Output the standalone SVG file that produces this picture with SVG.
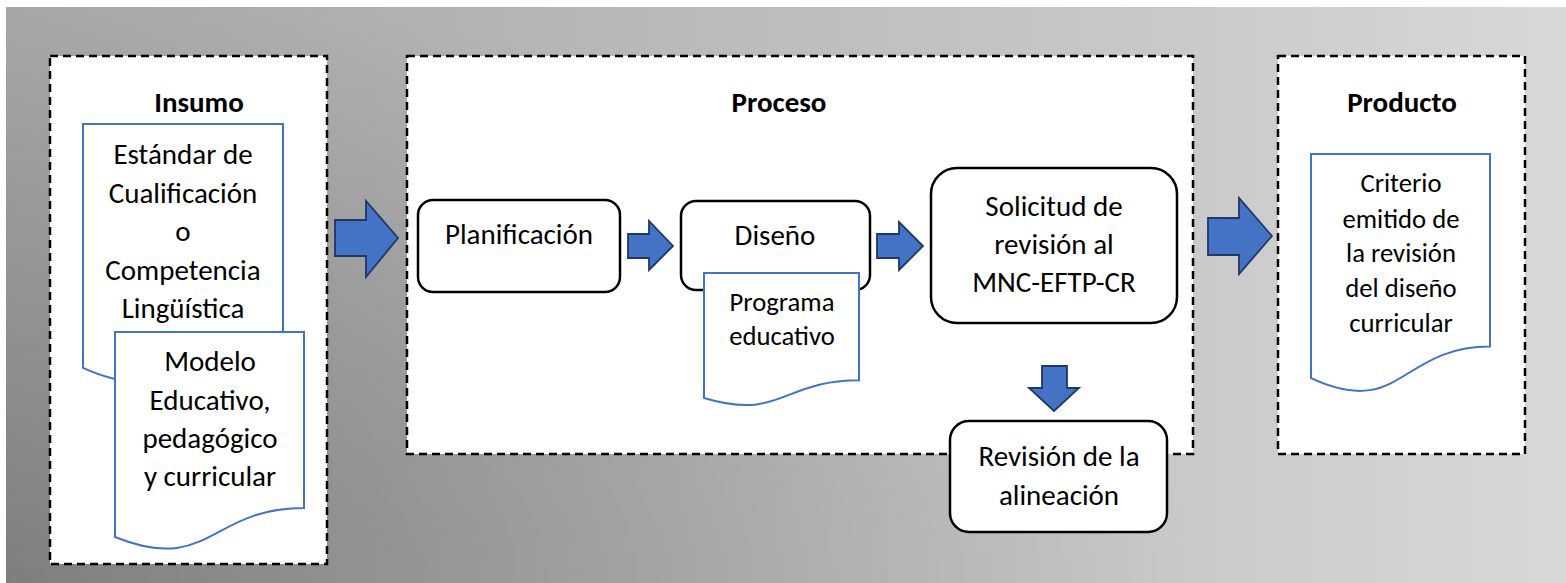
<svg xmlns="http://www.w3.org/2000/svg" width="1566" height="583" viewBox="0 0 1566 583">
  <defs>
    <linearGradient id="bgH" gradientUnits="userSpaceOnUse" x1="0" y1="0" x2="1566" y2="0">
      <stop offset="0" stop-color="#a8a8a8"/>
      <stop offset="0.26" stop-color="#b1b1b1"/>
      <stop offset="0.75" stop-color="#c9c9c9"/>
      <stop offset="1" stop-color="#d8d8d8"/>
    </linearGradient>
    <radialGradient id="bgShade" gradientUnits="userSpaceOnUse" cx="0" cy="583" r="600" gradientTransform="translate(0 583) scale(2 1) translate(0 -583)">
      <stop offset="0" stop-color="#000" stop-opacity="0.25"/>
      <stop offset="1" stop-color="#000" stop-opacity="0"/>
    </radialGradient>
    <style>
      .stage { fill: #ffffff; stroke: #000000; stroke-width: 2.5; stroke-dasharray: 8 5; }
      .box { fill: #ffffff; stroke: #000000; stroke-width: 2.5; }
      .doc { fill: #ffffff; stroke: #4472c4; stroke-width: 2; }
      .arrow { fill: #4472c4; stroke: #1f3864; stroke-width: 1.8; stroke-linejoin: miter; }
      text { font-family: Carlito, Lato, "Liberation Sans", sans-serif; fill: #000000; text-anchor: middle; }
      .t { font-size: 29px; }
      .s { font-size: 26.7px; }
      .h { font-size: 29px; font-weight: bold; }
    </style>
  </defs>

  <rect x="6" y="7" width="1560" height="576" fill="url(#bgH)"/>
  <rect x="6" y="7" width="1560" height="576" fill="url(#bgShade)"/>

  <g id="insumo">
    <rect class="stage" x="50" y="56" width="277" height="508"/>
    <text class="h" x="199" y="112">Insumo</text>
  </g>

  <g id="proceso">
    <rect class="stage" x="407" y="56" width="786" height="398"/>
    <text class="h" x="779" y="112">Proceso</text>
  </g>

  <g id="producto">
    <rect class="stage" x="1278" y="56" width="247" height="398"/>
    <text class="h" x="1402" y="112">Producto</text>
  </g>

  <g id="doc-estandar">
    <path class="doc" d="M83,124 H283 V333.3 C183,333.3 183,413 83,367.8 Z"/>
    <text class="t" x="183" y="164">Estándar de</text>
    <text class="t" x="183" y="202.5">Cualificación</text>
    <text class="t" x="183" y="241">o</text>
    <text class="t" x="183" y="279.5">Competencia</text>
    <text class="t" x="183" y="318">Lingüística</text>
  </g>

  <g id="doc-modelo">
    <path class="doc" d="M115,332 H304 V508 C209.5,508 209.5,575 115,537 Z"/>
    <text class="t" x="210" y="371">Modelo</text>
    <text class="t" x="210" y="410">Educativo,</text>
    <text class="t" x="210" y="448">pedagógico</text>
    <text class="t" x="210" y="486">y curricular</text>
  </g>

  <g id="planificacion">
    <rect class="box" x="418" y="200" width="202" height="92" rx="15" ry="15"/>
    <text class="t" x="519" y="244">Planificación</text>
  </g>

  <g id="diseno">
    <rect class="box" x="681" y="201" width="189" height="89" rx="15" ry="15"/>
    <text class="t" x="775" y="245">Diseño</text>
  </g>

  <g id="doc-programa">
    <path class="doc" d="M704,273 H859 V380.3 C781.5,380.3 781.5,421.2 704,398 Z"/>
    <text class="s" x="782" y="311">Programa</text>
    <text class="s" x="782" y="345">educativo</text>
  </g>

  <g id="solicitud">
    <rect class="box" x="931" y="168" width="246" height="155" rx="26" ry="26"/>
    <text class="t" x="1054" y="216">Solicitud de</text>
    <text class="t" x="1054" y="254">revisión al</text>
    <text class="t" x="1054" y="292">MNC-EFTP-CR</text>
  </g>

  <g id="revision">
    <rect class="box" x="950" y="421" width="217" height="111" rx="19" ry="19"/>
    <text class="t" x="1059" y="466">Revisión de la</text>
    <text class="t" x="1059" y="505">alineación</text>
  </g>

  <g id="doc-criterio">
    <path class="doc" d="M1311,154 H1490 V346.5 C1400.5,346.5 1400.5,419.8 1311,378.2 Z"/>
    <text class="s" x="1401" y="192">Criterio</text>
    <text class="s" x="1401" y="228">emitido de</text>
    <text class="s" x="1401" y="262">la revisión</text>
    <text class="s" x="1401" y="297">del diseño</text>
    <text class="s" x="1401" y="332">curricular</text>
  </g>

  <g id="connectors">
    <path class="arrow" d="M335,220 H366 V201 L398,238 L366,277 V256 H335 Z"/>
    <path class="arrow" d="M628,234 H649 V221 L673,246 L649,270 V258 H628 Z"/>
    <path class="arrow" d="M877,234 H899 V222 L923,246 L899,270 V258 H877 Z"/>
    <path class="arrow" d="M1042,366 H1067 V388 H1079 L1054,411 L1029,388 H1042 Z"/>
    <path class="arrow" d="M1208,218 H1239 V198 L1272,236 L1239,274 V255 H1208 Z"/>
  </g>
</svg>
